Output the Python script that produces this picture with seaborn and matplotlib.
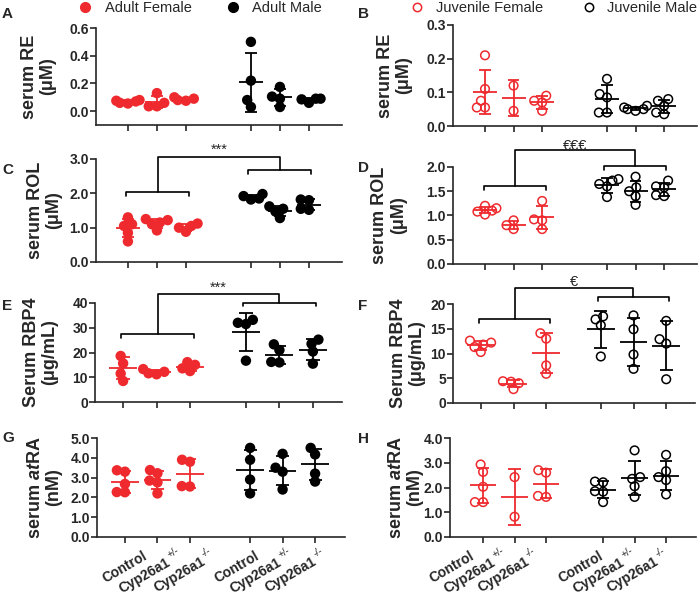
import matplotlib
matplotlib.use('Agg')
import matplotlib.pyplot as plt
import seaborn as sns
import pandas as pd
from matplotlib.lines import Line2D

RED = '#EE2A2E'
BLACK = '#000000'

# group order in every list: female Control, +/-, -/-, male Control, +/-, -/-
genotype_names = ['Control', 'Cyp26a1', 'Cyp26a1'] * 2
genotype_sups = ['', '+/-', '-/-'] * 2

re_adult = [[0.08, 0.075, 0.07, 0.06, 0.055], [0.13, 0.06, 0.035, 0.035], [0.10, 0.09, 0.08, 0.075],
            [0.50, 0.22, 0.08, 0.03], [0.175, 0.105, 0.09, 0.03], [0.09, 0.09, 0.085, 0.06]]
re_juv = [[0.21, 0.11, 0.075, 0.055, 0.055], [0.12, 0.045], [0.09, 0.075, 0.07, 0.045],
          [0.14, 0.095, 0.085, 0.04, 0.04], [0.06, 0.055, 0.05, 0.05, 0.045], [0.08, 0.075, 0.06, 0.04, 0.035]]
rol_adult = [[1.3, 1.1, 1.05, 0.85, 0.6], [1.25, 1.22, 1.15, 1.1, 0.92], [1.12, 1.05, 1.0, 0.88],
             [1.98, 1.92, 1.85, 1.82], [1.62, 1.55, 1.47, 1.28], [1.82, 1.8, 1.55, 1.52]]
rol_juv = [[1.2, 1.15, 1.1, 1.08, 1.02], [0.9, 0.8, 0.72], [1.3, 0.92, 0.9, 0.72],
           [1.75, 1.72, 1.65, 1.6, 1.38], [1.8, 1.58, 1.5, 1.4, 1.22], [1.72, 1.6, 1.58, 1.42, 1.4]]
rbp4_adult = [[18.6, 15.6, 11.5, 8.5], [13.3, 12.2, 11.6, 11.2], [16.1, 15.0, 13.6, 12.5],
              [33.2, 32.0, 31.5, 16.7], [23.3, 21.0, 16.2, 16.0], [25.2, 23.5, 20.4, 15.5]]
rbp4_juv = [[12.6, 12.2, 11.8, 11.3, 10.3], [4.4, 4.3, 4.0, 2.8], [14.1, 13.0, 7.6, 5.9],
            [17.5, 16.9, 15.7, 9.4], [17.7, 14.9, 9.8, 6.9], [16.6, 12.9, 12.0, 4.8]]
atra_adult = [[3.37, 3.3, 2.68, 2.27, 2.26], [3.38, 3.22, 2.85, 2.76, 2.2], [3.9, 3.8, 2.57, 2.55],
              [4.5, 3.9, 2.9, 2.2], [4.2, 3.5, 3.3, 2.4], [4.5, 4.17, 3.2, 2.8]]
atra_juv = [[2.93, 2.63, 2.03, 1.41, 1.41], [2.42, 0.82], [2.7, 2.6, 1.66, 1.62],
            [2.24, 2.21, 1.85, 1.83, 1.41], [3.5, 2.42, 2.35, 2.05, 1.62], [3.32, 2.66, 2.42, 2.3, 1.72]]

sns.set_style('ticks')
plt.rcParams['font.family'] = ['Liberation Sans', 'DejaVu Sans']
plt.rcParams['mathtext.fontset'] = 'custom'
plt.rcParams['mathtext.rm'] = 'Liberation Sans'
plt.rcParams['mathtext.it'] = 'Liberation Sans:italic:bold'
plt.rcParams['mathtext.bf'] = 'Liberation Sans:bold'
plt.rcParams['axes.linewidth'] = 1.2

W, H = 700, 598
fig = plt.figure(figsize=(7, 5.98), dpi=100)

# panel: letter, data, filled, ylabel, ylim, yticks, fmt, box(px l,r,t,b), gap, margins, label x, bracket
panels = [
    ('A', re_adult, True, 'serum RE\n(μM)', (-0.1, 0.6), [0, 0.2, 0.4, 0.6], '{:.1f}',
     (96, 342, 28, 125), 2.24, (1.1, 1.14), -0.163, None),
    ('B', re_juv, False, 'serum RE\n(μM)', (0, 0.3), [0, 0.1, 0.2, 0.3], '{:.1f}',
     (453, 697, 25, 126), 2.27, (1.12, 1.15), -0.168, None),
    ('C', rol_adult, True, 'serum ROL\n(μM)', (0, 3), [0, 1, 2, 3], '{:.1f}',
     (96, 342, 159, 262), 2.24, (1.1, 1.14), -0.138, (2.03, 2.69, 3.07, '***', 3.27)),
    ('D', rol_juv, False, 'serum ROL\n(μM)', (0, 2), [0, 0.5, 1, 1.5, 2], '{:.1f}',
     (453, 697, 167, 264), 2.27, (1.12, 1.15), -0.19, (1.6, 2.02, 2.35, '€€€', 2.44)),
    ('E', rbp4_adult, True, 'Serum RBP4\n(μg/mL)', (0, 40), [0, 10, 20, 30, 40], '{:.0f}',
     (95, 342, 303, 402), 1.67, (0.84, 0.87), -0.15, (27.5, 40.2, 43.7, '***', 46.2)),
    ('F', rbp4_juv, False, 'Serum RBP4\n(μg/mL)', (0, 20), [0, 5, 10, 15, 20], '{:.0f}',
     (453, 695, 304, 403), 1.67, (0.85, 0.88), -0.116, (17.0, 21.5, 23.2, '€', 24.5)),
    ('G', atra_adult, True, 'serum $\\mathit{at}$RA\n(nM)', (0, 5), [0, 1, 2, 3, 4, 5], '{:.1f}',
     (97, 345, 438, 537), 1.85, (0.86, 0.92), -0.14, None),
    ('H', atra_juv, False, 'serum $\\mathit{at}$RA\n(nM)', (0, 4), [0, 1, 2, 3, 4], '{:.1f}',
     (450, 696, 438, 537), 1.81, (1.05, 0.95), -0.11, None),
]

# horizontal shift (px) of the rotated genotype labels' right end from their ticks (female, male)
label_dx = {'G': (18, 4), 'H': (-14, -5)}
SUP_W = {'+/-': 11.6, '-/-': 9.2}   # superscript widths in px at 7 pt

swarms = []


def draw_panel(ax, groups, filled, gap):
    pos = [0, 1, 2, 2 + gap, 3 + gap, 4 + gap]
    rows = []
    for i, vals in enumerate(groups):
        for v in vals:
            rows.append({'pos': pos[i], 'value': v, 'sex': 'F' if i < 3 else 'M'})
    df = pd.DataFrame(rows)
    # swarm laid out with smaller markers so the clusters overlap like the original
    sns.swarmplot(data=df, x='pos', y='value', hue='sex', palette={'F': RED, 'M': BLACK},
                  native_scale=True, size=5.6, ax=ax, legend=False, zorder=3)
    for coll in ax.collections:
        swarms.append((coll, filled))
    stats = df.groupby('pos')['value'].agg(['mean', 'std'])
    for p, row in stats.iterrows():
        c = RED if p < 3 else BLACK
        m, s = row['mean'], row['std']
        ax.hlines(m, p - 0.42, p + 0.42, color=c, lw=1.3, zorder=4)
        ax.vlines(p, m - s, m + s, color=c, lw=1.3, zorder=4)
        ax.hlines([m - s, m + s], p - 0.2, p + 0.2, color=c, lw=1.3, zorder=4)
    return pos


def draw_bracket(ax, pos, spec, yr):
    left_y, right_y, top_y, txt, txt_y = spec
    tick = 0.04 * yr
    kw = dict(color=BLACK, lw=1.2, clip_on=False)
    l0, l1 = pos[0] - 0.05, pos[2] + 0.12
    r0, r1 = pos[3] - 0.1, pos[5] + 0.08
    lm, rm = (l0 + l1) / 2, (r0 + r1) / 2
    ax.plot([l0, l0, l1, l1], [left_y - tick, left_y, left_y, left_y - tick], **kw)
    ax.plot([r0, r0, r1, r1], [right_y - tick, right_y, right_y, right_y - tick], **kw)
    ax.plot([lm, lm, rm, rm], [left_y, top_y, top_y, right_y], **kw)
    ax.text((lm + rm) / 2, txt_y, txt, ha='center', va='center', fontsize=10.5, clip_on=False)


def genotype_label(ax, p, name, sup, dx):
    # (dx, dy): px right / down from the tick of the label's top-right end
    common = dict(xy=(p, 0), xycoords=('data', 'axes fraction'), textcoords='offset points',
                  rotation=30, rotation_mode='anchor')
    if not sup:
        ax.annotate(name, xytext=(dx * 0.72, -12 * 0.72), ha='right', va='top',
                    fontsize=10, fontweight='bold', **common)
        return
    dy = 8
    w = SUP_W[sup]
    ax.annotate(sup, xytext=(dx * 0.72, -dy * 0.72), ha='right', va='top', fontsize=7, **common)
    # word ends just before the superscript, its top a little lower
    mx = dx - 0.866 * (w + 2) + 2
    my = dy + 0.5 * (w + 2) + 3.5
    ax.annotate(name, xytext=(mx * 0.72, -my * 0.72), ha='right', va='top',
                fontsize=10, fontweight='bold', **common)


for (letter, groups, filled, ylabel, ylim, yticks, fmt, box, gap, margins, lab_x, bracket) in panels:
    l, r, t, b = box
    ax = fig.add_axes([l / W, 1 - b / H, (r - l) / W, (b - t) / H])
    pos = draw_panel(ax, groups, filled, gap)
    ax.set_xlim(-margins[0], pos[-1] + margins[1])
    ax.set_ylim(*ylim)
    ax.set_yticks(yticks, labels=[fmt.format(v) for v in yticks], fontweight='bold', fontsize=10)
    ax.set_xticks(pos, labels=[])
    ax.set_xlabel('')
    ax.set_ylabel(ylabel, fontsize=13, fontweight='bold', linespacing=1.1)
    ax.yaxis.set_label_coords(lab_x, 0.5)
    ax.tick_params(width=1.2, length=4, pad=1)
    sns.despine(ax=ax)
    if bracket is not None:
        draw_bracket(ax, pos, bracket, ylim[1] - ylim[0])
    if letter in label_dx:
        for i, (p, name, sup) in enumerate(zip(pos, genotype_names, genotype_sups)):
            genotype_label(ax, p, name, sup, label_dx[letter][i // 3])

# panel letters
letters_px = {'A': (2, 14), 'B': (358, 14), 'C': (2, 170), 'D': (358, 168),
              'E': (2, 306), 'F': (358, 306), 'G': (2, 438), 'H': (358, 439)}
for k, (x, y) in letters_px.items():
    fig.text(x / W, 1 - y / H, k, fontsize=11, fontweight='bold', ha='left', va='center')

# legends
adult_handles = [Line2D([], [], marker='o', ls='', color=RED, markersize=7),
                 Line2D([], [], marker='o', ls='', color=BLACK, markersize=7)]
fig.legend(adult_handles, ['Adult Female', 'Adult Male'], loc='upper left',
           bbox_to_anchor=(78 / W, 1 - 1 / H), ncol=2, frameon=False, fontsize=10.5,
           handlelength=1, handletextpad=0.85, columnspacing=2.3, borderpad=0, borderaxespad=0)
juv_handles = [Line2D([], [], marker='o', ls='', color=RED, mfc='none', mew=1.1, markersize=6),
               Line2D([], [], marker='o', ls='', color=BLACK, mfc='none', mew=1.1, markersize=6)]
fig.legend(juv_handles, ['Juvenile Female', 'Juvenile Male'], loc='upper left',
           bbox_to_anchor=(410 / W, 1 - 1 / H), ncol=2, frameon=False, fontsize=10.5,
           handlelength=1, handletextpad=0.75, columnspacing=2.65, borderpad=0, borderaxespad=0)

# run the beeswarm layout once with the smaller markers, then freeze it and enlarge the dots
fig.canvas.draw()
for coll, filled in swarms:
    if 'draw' in coll.__dict__:
        del coll.draw
    if filled:
        coll.set_sizes([7.5 ** 2])
    else:
        fc = coll.get_facecolors()
        coll.set_edgecolors(fc)
        coll.set_facecolors('none')
        coll.set_linewidths(1.1)
        coll.set_sizes([6.2 ** 2])

fig.savefig('out.png', dpi=100)
